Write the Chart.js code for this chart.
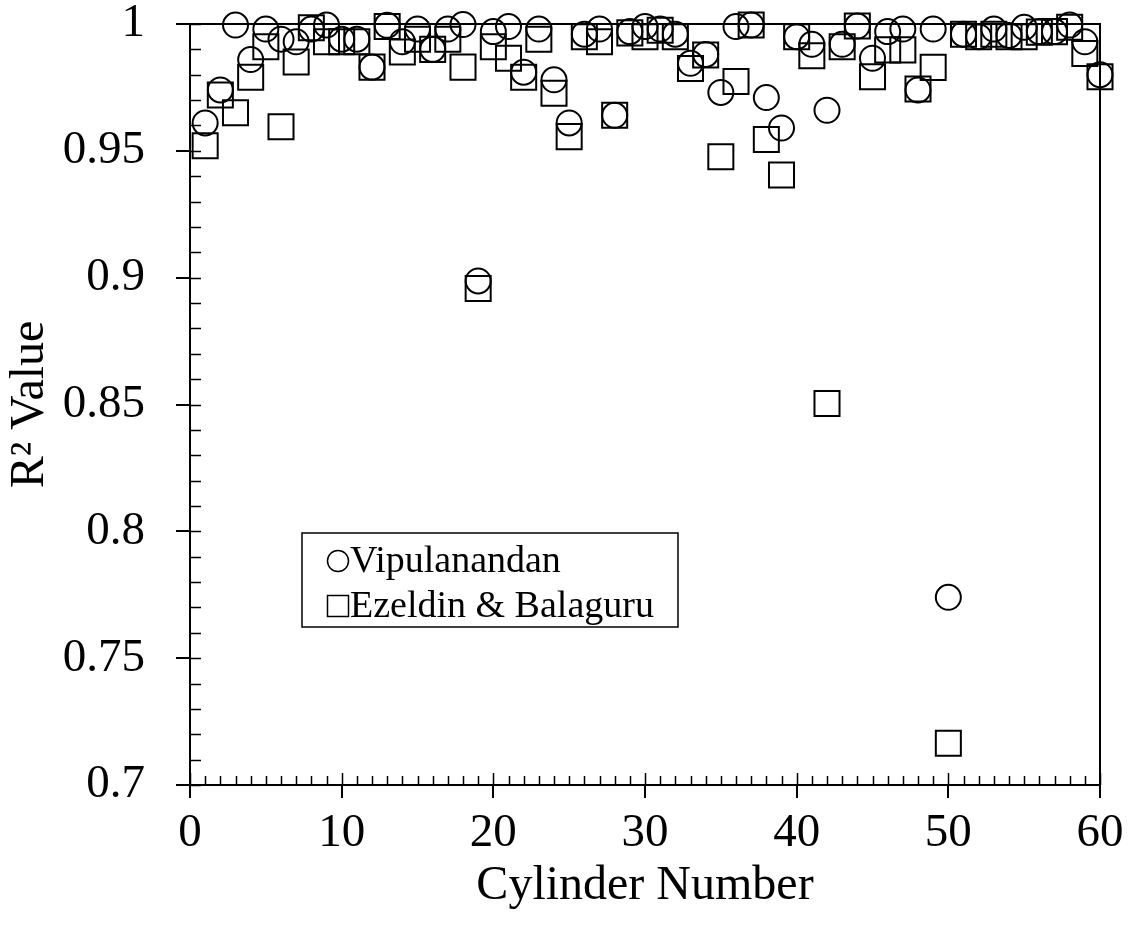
<!DOCTYPE html>
<html>
<head>
<meta charset="utf-8">
<script src="https://cdn.jsdelivr.net/npm/chart.js@4.4.1/dist/chart.umd.min.js"></script>
<style>
  html, body { margin: 0; padding: 0; background: #fff; }
  #wrap { width: 1134px; height: 928px; position: relative; }
</style>
</head>
<body>
<div id="wrap"><canvas id="c" width="1134" height="928"></canvas></div>
<script>
const cylinders = [1,2,3,4,5,6,7,8,9,10,11,12,13,14,15,16,17,18,19,20,21,22,23,24,25,26,27,28,29,30,31,32,33,34,35,36,37,38,39,40,41,42,43,44,45,46,47,48,49,50,51,52,53,54,55,56,57,58,59,60];
const vipulanandan = [0.961,0.974,0.9996,0.986,0.998,0.994,0.993,0.998,0.9996,0.994,0.994,0.983,0.9995,0.993,0.998,0.990,0.998,0.9998,0.8987,0.997,0.999,0.981,0.998,0.978,0.961,0.996,0.998,0.964,0.997,0.999,0.998,0.996,0.9845,0.988,0.973,0.999,0.9996,0.971,0.959,0.995,0.992,0.966,0.992,0.9992,0.9865,0.997,0.998,0.974,0.998,0.774,0.996,0.995,0.998,0.9955,0.9987,0.997,0.997,0.9996,0.993,0.980];
const ezeldinBalaguru = [0.952,0.972,0.965,0.979,0.991,0.9595,0.985,0.9985,0.993,0.993,0.993,0.983,0.999,0.989,0.994,0.990,0.994,0.983,0.8957,0.991,0.9865,0.979,0.994,0.9727,0.9556,0.995,0.993,0.964,0.9965,0.995,0.9975,0.995,0.9825,0.9878,0.9477,0.9773,0.9996,0.9545,0.9405,0.995,0.9875,0.8504,0.991,0.9992,0.9792,0.9898,0.9898,0.9744,0.9829,0.7165,0.996,0.995,0.996,0.995,0.995,0.9968,0.997,0.9987,0.9884,0.9792];
const seriesNames = ['Vipulanandan', 'Ezeldin & Balaguru'];
const xTitle = 'Cylinder Number';
const yTitle = 'R\u00B2 Value';

const FONT = "'Liberation Serif', 'Times New Roman', serif";

function toPoints(xs, ys) { return xs.map((x, i) => ({ x: x, y: ys[i] })); }

const frame = {
  id: 'frame',
  afterDatasetsDraw(chart) {
    const { ctx, chartArea: a, scales: { x, y } } = chart;
    ctx.save();
    ctx.strokeStyle = '#000';
    ctx.lineWidth = 2;
    ctx.beginPath();
    ctx.moveTo(a.left, a.top); ctx.lineTo(a.right, a.top); ctx.lineTo(a.right, a.bottom);
    ctx.stroke();
    ctx.lineWidth = 1.5;
    ctx.beginPath();
    for (let v = x.min; v <= x.max; v += 1) {
      const px = Math.round(x.getPixelForValue(v)) + 0.5;
      const len = (v % 10 === 0) ? 12 : 9;
      ctx.moveTo(px, a.bottom); ctx.lineTo(px, a.bottom - len);
    }
    for (let k = 0; k <= 30; k++) {
      const v = 0.7 + k * 0.01;
      const py = Math.round(y.getPixelForValue(v)) + 0.5;
      ctx.moveTo(a.left, py); ctx.lineTo(a.left + 11, py);
    }
    ctx.stroke();
    ctx.restore();
  },
  afterDraw(chart) {
    const { ctx } = chart;
    const bx = 302, by = 533, bw = 376, bh = 94;
    ctx.save();
    ctx.fillStyle = '#fff';
    ctx.fillRect(bx, by, bw, bh);
    ctx.strokeStyle = '#000';
    ctx.lineWidth = 1.5;
    ctx.strokeRect(bx, by, bw, bh);
    ctx.font = '38px ' + FONT;
    ctx.fillStyle = '#000';
    ctx.textBaseline = 'middle';
    ctx.textAlign = 'left';
    const ds = chart.data.datasets;
    const rows = [561, 606];
    ds.forEach((d, i) => {
      const cy = rows[i];
      ctx.beginPath();
      if (d.pointStyle === 'circle') {
        ctx.arc(338, cy, 10.5, 0, Math.PI * 2);
      } else {
        ctx.rect(327.5, cy - 10.5, 21, 21);
      }
      ctx.stroke();
      ctx.fillText(d.label, 350, cy + 1);
    });
    ctx.restore();
  }
};

new Chart(document.getElementById('c'), {
  type: 'scatter',
  data: {
    datasets: [
      {
        label: seriesNames[0],
        data: toPoints(cylinders, vipulanandan),
        pointStyle: 'circle',
        pointRadius: 12.5,
        pointHoverRadius: 12.5,
        borderColor: '#000',
        backgroundColor: 'rgba(0,0,0,0)',
        borderWidth: 2,
        pointBorderWidth: 2,
        clip: false
      },
      {
        label: seriesNames[1],
        data: toPoints(cylinders, ezeldinBalaguru),
        pointStyle: 'rect',
        pointRadius: 17.7,
        pointHoverRadius: 17.7,
        borderColor: '#000',
        backgroundColor: 'rgba(0,0,0,0)',
        borderWidth: 2,
        pointBorderWidth: 2,
        clip: false
      }
    ]
  },
  options: {
    responsive: false,
    animation: false,
    events: [],
    layout: { padding: { left: 0, top: 24, right: 34, bottom: 0 } },
    plugins: { legend: { display: false }, tooltip: { enabled: false } },
    scales: {
      x: {
        type: 'linear',
        min: 0, max: 60,
        afterFit(s) { s.height = 143; s.paddingLeft = 0; s.paddingRight = 0; },
        ticks: { stepSize: 10, maxRotation: 0, autoSkip: false, color: '#000', padding: 12,
                 font: { family: FONT, size: 47, lineHeight: 1 } },
        grid: { display: true, drawOnChartArea: false, drawTicks: true, tickLength: 13, color: '#000', lineWidth: 2 },
        border: { display: true, color: '#000', width: 2 },
        title: { display: true, text: xTitle, color: '#000', font: { family: FONT, size: 48 }, padding: { top: 0, bottom: 13 } }
      },
      y: {
        type: 'linear',
        min: 0.7, max: 1,
        afterFit(s) { s.width = 190; s.paddingTop = 0; s.paddingBottom = 0; },
        ticks: { stepSize: 0.05, color: '#000', padding: 31,
                 font: { family: FONT, size: 47, lineHeight: 1 },
                 callback: (v) => String(+Number(v).toFixed(2)) },
        grid: { display: true, drawOnChartArea: false, drawTicks: true, tickLength: 14, color: '#000', lineWidth: 2 },
        border: { display: true, color: '#000', width: 2 },
        title: { display: true, text: yTitle, color: '#000', font: { family: FONT, size: 48 }, padding: { top: 2, bottom: 0 } }
      }
    }
  },
  plugins: [frame]
});
</script>
</body>
</html>
